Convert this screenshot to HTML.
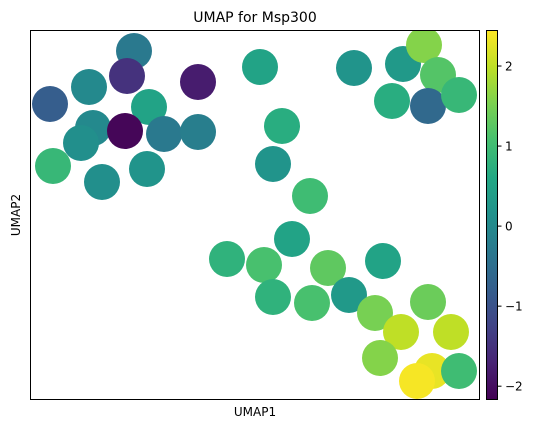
<!DOCTYPE html>
<html><head><meta charset="utf-8"><style>
body{margin:0;background:#fff;font-family:"Liberation Sans","DejaVu Sans",sans-serif;}
svg text{font-family:"DejaVu Sans","Liberation Sans",sans-serif;}
</style></head><body>
<svg id="chart" width="538" height="429" xmlns="http://www.w3.org/2000/svg">
<defs>
<linearGradient id="viridis" x1="0" y1="1" x2="0" y2="0">
<stop offset="0" stop-color="#440154"/><stop offset="0.1" stop-color="#482475"/><stop offset="0.2" stop-color="#414487"/><stop offset="0.3" stop-color="#355f8d"/><stop offset="0.4" stop-color="#2a788e"/><stop offset="0.5" stop-color="#21918c"/><stop offset="0.6" stop-color="#22a884"/><stop offset="0.7" stop-color="#44bf70"/><stop offset="0.8" stop-color="#7ad151"/><stop offset="0.9" stop-color="#bddf26"/><stop offset="1" stop-color="#fde725"/>
</linearGradient>
<clipPath id="plotclip"><rect x="30" y="30" width="449" height="369"/></clipPath>
</defs>
<text x="255" y="22" font-size="14" text-anchor="middle">UMAP for Msp300</text>
<g id="points" clip-path="url(#plotclip)"></g>
<rect x="30.5" y="30.5" width="449" height="369" fill="none" stroke="#000" stroke-width="1"/>
<text x="255" y="416" font-size="12" text-anchor="middle">UMAP1</text>
<text x="20" y="215" font-size="12" text-anchor="middle" transform="rotate(-90 20 215)">UMAP2</text>
<rect x="486.5" y="30.5" width="11" height="369" fill="url(#viridis)" stroke="#000" stroke-width="1"/>
<g id="cbticks"></g>
</svg>
<script>
const umap1 = [104,97,59,168,20,119,63,95,134,168,51,23,117,72,230,324,373,394,408,362,398,429,252,243,280,262,197,234,298,353,243,282,319,345,398,371,421,350,402,429,387];
const umap2 = [348,323,312,317,295,292,271,268,265,267,256,233,230,217,332,331,335,354,324,298,293,304,273,235,203,160,140,134,131,138,102,96,104,86,97,67,67,41,28,28,18];
const expr = [-0.3,-1.5,0,-1.8,-0.8,0.5,0,-2.1,-0.3,-0.2,0.1,0.9,0.2,0.1,0.5,0.2,0.3,1.6,1.2,0.7,-0.6,0.9,0.7,0.2,1.0,0.5,0.8,1.1,1.3,0.5,0.8,1.1,0.3,1.5,1.4,2.0,2.0,1.6,2.3,1.0,2.4];
const cbTicks = [-2,-1,0,1,2];
const vmin=-2.16, vmax=2.45;
const sx = v => 30 + v;
const sy = v => 399 - v;
const cy = v => 399 - (v - vmin) / (vmax - vmin) * 369;
const stops=["#440154","#482475","#414487","#355f8d","#2a788e","#21918c","#22a884","#44bf70","#7ad151","#bddf26","#fde725"];
function hx(c){return [1,3,5].map(i=>parseInt(c.substr(i,2),16));}
function viridis(v){let t=Math.max(0,Math.min(1,(v-vmin)/(vmax-vmin)))*10;let i=Math.min(9,Math.floor(t));let f=t-i;let a=hx(stops[i]),b=hx(stops[i+1]);return 'rgb('+a.map((x,k)=>Math.round(x+(b[k]-x)*f)).join(',')+')';}
const NS="http://www.w3.org/2000/svg";
const g=document.getElementById('points');
umap1.forEach((x,i)=>{
  const c=document.createElementNS(NS,'circle');
  c.setAttribute('cx',sx(x));c.setAttribute('cy',sy(umap2[i]));c.setAttribute('r',18);
  c.setAttribute('fill',viridis(expr[i]));
  
  
  g.appendChild(c);
});
const tg=document.getElementById('cbticks');
cbTicks.forEach(t=>{
  const y=cy(t);
  const l=document.createElementNS(NS,'line');
  l.setAttribute('x1',497.5);l.setAttribute('x2',501.5);l.setAttribute('y1',y);l.setAttribute('y2',y);l.setAttribute('stroke','#000');
  
  
  tg.appendChild(l);
  const tx=document.createElementNS(NS,'text');
  tx.setAttribute('x',505);tx.setAttribute('y',y+4.5);tx.setAttribute('font-size','12');
  tx.textContent=(t<0?'\u2212'+Math.abs(t):t);
  
  
  tg.appendChild(tx);
});
</script>
</body></html>
